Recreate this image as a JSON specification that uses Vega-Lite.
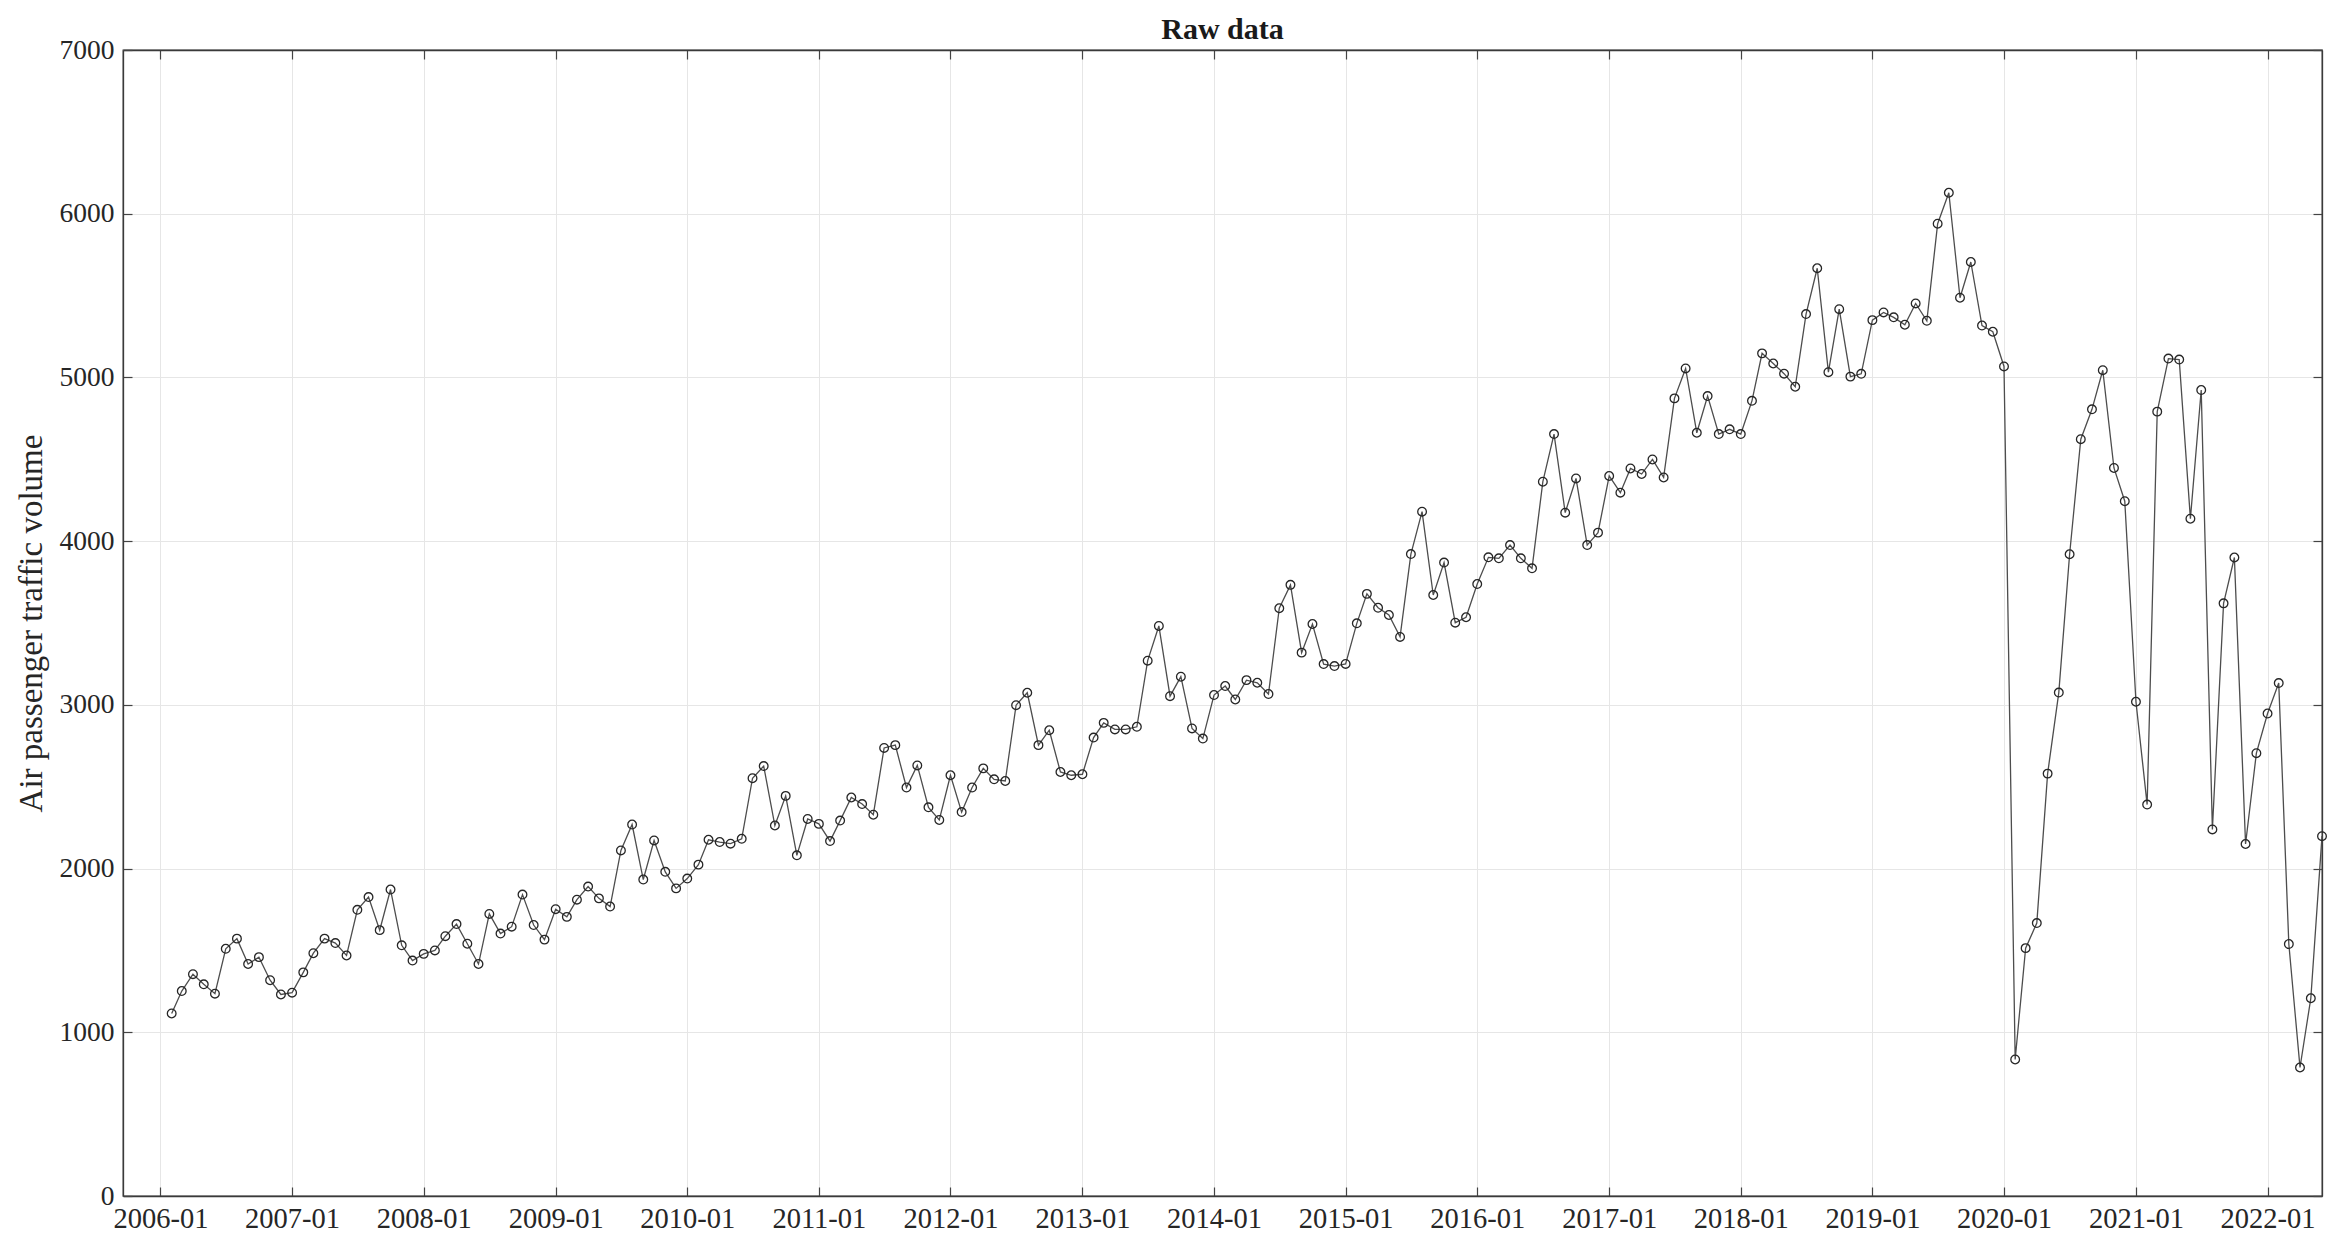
{
  "$schema": "https://vega.github.io/schema/vega-lite/v6.json",
  "width": 2199,
  "height": 1146,
  "autosize": {"type": "none"},
  "padding": {"left": 123, "top": 50, "right": 28, "bottom": 59},
  "background": "white",
  "config": {
    "view": {"stroke": "#3a3a3a", "strokeWidth": 1.3},
    "font": "Liberation Serif"
  },
  "title": {
    "text": "Raw data",
    "font": "Liberation Serif",
    "fontSize": 30,
    "fontWeight": "bold",
    "color": "#1a1a1a",
    "anchor": "middle",
    "offset": -9
  },
  "data": {
    "values": [
      {"date": "2006-02-01", "v": 1115}, {"date": "2006-03-01", "v": 1252}, {"date": "2006-04-01", "v": 1355}, {"date": "2006-05-01", "v": 1293}, {"date": "2006-06-01", "v": 1236}, {"date": "2006-07-01", "v": 1510}, {"date": "2006-08-01", "v": 1572}, {"date": "2006-09-01", "v": 1417}, {"date": "2006-10-01", "v": 1459}, {"date": "2006-11-01", "v": 1318}, {"date": "2006-12-01", "v": 1231},
      {"date": "2007-01-01", "v": 1242}, {"date": "2007-02-01", "v": 1366}, {"date": "2007-03-01", "v": 1483}, {"date": "2007-04-01", "v": 1572}, {"date": "2007-05-01", "v": 1545}, {"date": "2007-06-01", "v": 1469}, {"date": "2007-07-01", "v": 1748}, {"date": "2007-08-01", "v": 1826}, {"date": "2007-09-01", "v": 1624}, {"date": "2007-10-01", "v": 1872}, {"date": "2007-11-01", "v": 1531}, {"date": "2007-12-01", "v": 1438},
      {"date": "2008-01-01", "v": 1479}, {"date": "2008-02-01", "v": 1500}, {"date": "2008-03-01", "v": 1587}, {"date": "2008-04-01", "v": 1661}, {"date": "2008-05-01", "v": 1541}, {"date": "2008-06-01", "v": 1417}, {"date": "2008-07-01", "v": 1723}, {"date": "2008-08-01", "v": 1603}, {"date": "2008-09-01", "v": 1645}, {"date": "2008-10-01", "v": 1841}, {"date": "2008-11-01", "v": 1655}, {"date": "2008-12-01", "v": 1566},
      {"date": "2009-01-01", "v": 1752}, {"date": "2009-02-01", "v": 1705}, {"date": "2009-03-01", "v": 1810}, {"date": "2009-04-01", "v": 1890}, {"date": "2009-05-01", "v": 1818}, {"date": "2009-06-01", "v": 1768}, {"date": "2009-07-01", "v": 2111}, {"date": "2009-08-01", "v": 2269}, {"date": "2009-09-01", "v": 1933}, {"date": "2009-10-01", "v": 2172}, {"date": "2009-11-01", "v": 1980}, {"date": "2009-12-01", "v": 1879},
      {"date": "2010-01-01", "v": 1939}, {"date": "2010-02-01", "v": 2024}, {"date": "2010-03-01", "v": 2176}, {"date": "2010-04-01", "v": 2162}, {"date": "2010-05-01", "v": 2152}, {"date": "2010-06-01", "v": 2182}, {"date": "2010-07-01", "v": 2552}, {"date": "2010-08-01", "v": 2626}, {"date": "2010-09-01", "v": 2263}, {"date": "2010-10-01", "v": 2444}, {"date": "2010-11-01", "v": 2081}, {"date": "2010-12-01", "v": 2303},
      {"date": "2011-01-01", "v": 2273}, {"date": "2011-02-01", "v": 2168}, {"date": "2011-03-01", "v": 2293}, {"date": "2011-04-01", "v": 2434}, {"date": "2011-05-01", "v": 2394}, {"date": "2011-06-01", "v": 2329}, {"date": "2011-07-01", "v": 2737}, {"date": "2011-08-01", "v": 2754}, {"date": "2011-09-01", "v": 2495}, {"date": "2011-10-01", "v": 2630}, {"date": "2011-11-01", "v": 2374}, {"date": "2011-12-01", "v": 2297},
      {"date": "2012-01-01", "v": 2570}, {"date": "2012-02-01", "v": 2345}, {"date": "2012-03-01", "v": 2495}, {"date": "2012-04-01", "v": 2612}, {"date": "2012-05-01", "v": 2545}, {"date": "2012-06-01", "v": 2535}, {"date": "2012-07-01", "v": 2998}, {"date": "2012-08-01", "v": 3074}, {"date": "2012-09-01", "v": 2754}, {"date": "2012-10-01", "v": 2845}, {"date": "2012-11-01", "v": 2590}, {"date": "2012-12-01", "v": 2570},
      {"date": "2013-01-01", "v": 2576}, {"date": "2013-02-01", "v": 2800}, {"date": "2013-03-01", "v": 2890}, {"date": "2013-04-01", "v": 2850}, {"date": "2013-05-01", "v": 2850}, {"date": "2013-06-01", "v": 2866}, {"date": "2013-07-01", "v": 3270}, {"date": "2013-08-01", "v": 3482}, {"date": "2013-09-01", "v": 3053}, {"date": "2013-10-01", "v": 3172}, {"date": "2013-11-01", "v": 2856}, {"date": "2013-12-01", "v": 2794},
      {"date": "2014-01-01", "v": 3060}, {"date": "2014-02-01", "v": 3115}, {"date": "2014-03-01", "v": 3033}, {"date": "2014-04-01", "v": 3151}, {"date": "2014-05-01", "v": 3135}, {"date": "2014-06-01", "v": 3066}, {"date": "2014-07-01", "v": 3590}, {"date": "2014-08-01", "v": 3733}, {"date": "2014-09-01", "v": 3319}, {"date": "2014-10-01", "v": 3494}, {"date": "2014-11-01", "v": 3249}, {"date": "2014-12-01", "v": 3237},
      {"date": "2015-01-01", "v": 3250}, {"date": "2015-02-01", "v": 3498}, {"date": "2015-03-01", "v": 3678}, {"date": "2015-04-01", "v": 3593}, {"date": "2015-05-01", "v": 3549}, {"date": "2015-06-01", "v": 3415}, {"date": "2015-07-01", "v": 3921}, {"date": "2015-08-01", "v": 4180}, {"date": "2015-09-01", "v": 3671}, {"date": "2015-10-01", "v": 3869}, {"date": "2015-11-01", "v": 3502}, {"date": "2015-12-01", "v": 3535},
      {"date": "2016-01-01", "v": 3738}, {"date": "2016-02-01", "v": 3901}, {"date": "2016-03-01", "v": 3895}, {"date": "2016-04-01", "v": 3976}, {"date": "2016-05-01", "v": 3895}, {"date": "2016-06-01", "v": 3834}, {"date": "2016-07-01", "v": 4363}, {"date": "2016-08-01", "v": 4654}, {"date": "2016-09-01", "v": 4174}, {"date": "2016-10-01", "v": 4383}, {"date": "2016-11-01", "v": 3976}, {"date": "2016-12-01", "v": 4052},
      {"date": "2017-01-01", "v": 4398}, {"date": "2017-02-01", "v": 4296}, {"date": "2017-03-01", "v": 4444}, {"date": "2017-04-01", "v": 4410}, {"date": "2017-05-01", "v": 4499}, {"date": "2017-06-01", "v": 4389}, {"date": "2017-07-01", "v": 4872}, {"date": "2017-08-01", "v": 5055}, {"date": "2017-09-01", "v": 4662}, {"date": "2017-10-01", "v": 4886}, {"date": "2017-11-01", "v": 4654}, {"date": "2017-12-01", "v": 4683},
      {"date": "2018-01-01", "v": 4654}, {"date": "2018-02-01", "v": 4857}, {"date": "2018-03-01", "v": 5147}, {"date": "2018-04-01", "v": 5085}, {"date": "2018-05-01", "v": 5023}, {"date": "2018-06-01", "v": 4943}, {"date": "2018-07-01", "v": 5387}, {"date": "2018-08-01", "v": 5667}, {"date": "2018-09-01", "v": 5032}, {"date": "2018-10-01", "v": 5417}, {"date": "2018-11-01", "v": 5005}, {"date": "2018-12-01", "v": 5022},
      {"date": "2019-01-01", "v": 5350}, {"date": "2019-02-01", "v": 5397}, {"date": "2019-03-01", "v": 5367}, {"date": "2019-04-01", "v": 5322}, {"date": "2019-05-01", "v": 5452}, {"date": "2019-06-01", "v": 5346}, {"date": "2019-07-01", "v": 5939}, {"date": "2019-08-01", "v": 6128}, {"date": "2019-09-01", "v": 5487}, {"date": "2019-10-01", "v": 5705}, {"date": "2019-11-01", "v": 5317}, {"date": "2019-12-01", "v": 5279},
      {"date": "2020-01-01", "v": 5067}, {"date": "2020-02-01", "v": 834}, {"date": "2020-03-01", "v": 1514}, {"date": "2020-04-01", "v": 1667}, {"date": "2020-05-01", "v": 2580}, {"date": "2020-06-01", "v": 3075}, {"date": "2020-07-01", "v": 3920}, {"date": "2020-08-01", "v": 4623}, {"date": "2020-09-01", "v": 4805}, {"date": "2020-10-01", "v": 5044}, {"date": "2020-11-01", "v": 4447}, {"date": "2020-12-01", "v": 4244},
      {"date": "2021-01-01", "v": 3019}, {"date": "2021-02-01", "v": 2391}, {"date": "2021-03-01", "v": 4791}, {"date": "2021-04-01", "v": 5115}, {"date": "2021-05-01", "v": 5109}, {"date": "2021-06-01", "v": 4137}, {"date": "2021-07-01", "v": 4923}, {"date": "2021-08-01", "v": 2239}, {"date": "2021-09-01", "v": 3620}, {"date": "2021-10-01", "v": 3900}, {"date": "2021-11-01", "v": 2150}, {"date": "2021-12-01", "v": 2705},
      {"date": "2022-01-01", "v": 2947}, {"date": "2022-02-01", "v": 3133}, {"date": "2022-03-01", "v": 1539}, {"date": "2022-04-01", "v": 785}, {"date": "2022-05-01", "v": 1208}, {"date": "2022-06-01", "v": 2198}
    ]
  },
  "layer": [
    {
      "mark": {
        "type": "line",
        "stroke": "#4d4d4d",
        "strokeWidth": 1.3,
        "point": {"shape": "circle", "filled": false, "stroke": "#262626", "fill": "transparent", "strokeWidth": 1.3, "size": 75}
      },
      "encoding": {
        "x": {
          "field": "date",
          "type": "temporal",
          "scale": {
            "type": "utc",
            "domain": [
              {"year": 2005, "month": 9, "date": 19, "utc": true},
              {"year": 2022, "month": 6, "date": 1, "utc": true}
            ]
          },
          "axis": {
            "orient": "bottom",
            "format": "%Y-%m",
            "tickCount": {"interval": "year", "step": 1},
            "labelFont": "Liberation Serif",
            "labelFontSize": 28.5,
            "labelColor": "#262626",
            "labelPadding": 17,
            "labelFlush": false,
            "labelOverlap": false,
            "tickSize": -9,
            "tickColor": "#444444",
            "tickWidth": 1.2,
            "domainColor": "#3a3a3a",
            "domainWidth": 1.3,
            "grid": true,
            "gridColor": "#e6e6e6",
            "gridWidth": 1,
            "title": null
          }
        },
        "y": {
          "field": "v",
          "type": "quantitative",
          "scale": {"domain": [0, 7000], "nice": false, "zero": true},
          "axis": {
            "orient": "left",
            "values": [0, 1000, 2000, 3000, 4000, 5000, 6000, 7000],
            "format": "d",
            "labelFont": "Liberation Serif",
            "labelFontSize": 27.5,
            "labelColor": "#262626",
            "labelPadding": 18,
            "tickSize": -9,
            "tickColor": "#444444",
            "tickWidth": 1.2,
            "domainColor": "#3a3a3a",
            "domainWidth": 1.3,
            "grid": true,
            "gridColor": "#e6e6e6",
            "gridWidth": 1,
            "title": "Air passenger traffic volume",
            "titleFont": "Liberation Serif",
            "titleFontSize": 33,
            "titleFontWeight": "normal",
            "titleColor": "#262626",
            "titleX": -92,
            "titleBaseline": "middle"
          }
        }
      }
    },
    {
      "mark": {"type": "point", "opacity": 0},
      "encoding": {
        "x": {
          "field": "date",
          "type": "temporal",
          "axis": {
            "orient": "top",
            "tickCount": {"interval": "year", "step": 1},
            "labels": false,
            "tickSize": -9,
            "tickColor": "#444444",
            "tickWidth": 1.2,
            "domainColor": "#3a3a3a",
            "domainWidth": 1.3,
            "grid": false,
            "title": null
          }
        },
        "y": {
          "field": "v",
          "type": "quantitative",
          "axis": {
            "orient": "right",
            "values": [0, 1000, 2000, 3000, 4000, 5000, 6000, 7000],
            "labels": false,
            "tickSize": -9,
            "tickColor": "#444444",
            "tickWidth": 1.2,
            "domainColor": "#3a3a3a",
            "domainWidth": 1.3,
            "grid": false,
            "title": null
          }
        }
      }
    }
  ],
  "resolve": {"axis": {"x": "independent", "y": "independent"}}
}
